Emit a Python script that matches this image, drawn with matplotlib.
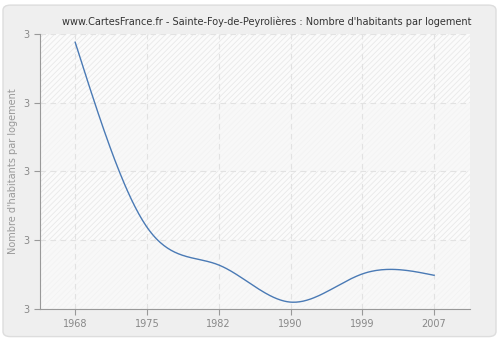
import numpy as np
import matplotlib
matplotlib.use("Agg")
import matplotlib.pyplot as plt
from matplotlib.patches import Rectangle, FancyBboxPatch

years = ["1968", "1975", "1982", "1990", "1999", "2007"]
values = [2.988, 2.719, 2.664, 2.610, 2.651, 2.649]
y_ticks = [2.6, 2.7, 2.8, 2.9, 3.0]


def natural_spline(x, y, n=300):
    # plain natural cubic spline, only used to draw the smooth line
    x = np.asarray(x, float)
    y = np.asarray(y, float)
    k = len(x)
    h = np.diff(x)
    A = np.zeros((k, k))
    b = np.zeros(k)
    A[0, 0] = A[-1, -1] = 1
    for i in range(1, k - 1):
        A[i, i - 1] = h[i - 1]
        A[i, i] = 2 * (h[i - 1] + h[i])
        A[i, i + 1] = h[i]
        b[i] = 6 * ((y[i + 1] - y[i]) / h[i] - (y[i] - y[i - 1]) / h[i - 1])
    m = np.linalg.solve(A, b)
    xs = np.linspace(x[0], x[-1], n)
    idx = np.clip(np.searchsorted(x, xs) - 1, 0, k - 2)
    t0 = x[idx]
    t1 = x[idx + 1]
    hh = t1 - t0
    ys = (m[idx] * (t1 - xs) ** 3 / (6 * hh) + m[idx + 1] * (xs - t0) ** 3 / (6 * hh)
          + (y[idx] / hh - m[idx] * hh / 6) * (t1 - xs)
          + (y[idx + 1] / hh - m[idx + 1] * hh / 6) * (xs - t0))
    return xs, ys


plt.rcParams["hatch.color"] = "#e8e8e8"
plt.rcParams["hatch.linewidth"] = 0.6

fig = plt.figure(figsize=(5, 3.4), dpi=100)
fig.patch.set_facecolor("white")
bg = FancyBboxPatch((0.006, 0.01), 0.986, 0.975,
                    boxstyle="round,pad=0,rounding_size=0.015",
                    transform=fig.transFigure, facecolor="#efefef",
                    edgecolor="#dddddd", linewidth=1, zorder=-10)
fig.patches.append(bg)

ax = fig.add_axes([0.08, 0.0912, 0.86, 0.8088])
ax.set_zorder(1)
ax.set_facecolor("#fbfbfb")

for i in range(len(y_ticks) - 1):
    if i % 2 == 1:
        ax.add_patch(Rectangle((-1, y_ticks[i]), 10, y_ticks[i + 1] - y_ticks[i],
                               facecolor="#fbfbfb", edgecolor="#e9e9e9",
                               hatch="//////", linewidth=0, zorder=0))
    else:
        ax.add_patch(Rectangle((-1, y_ticks[i]), 10, y_ticks[i + 1] - y_ticks[i],
                               facecolor="#f8f8f8", edgecolor="#f3f3f3",
                               hatch="//////", linewidth=0, zorder=0))

x = np.arange(len(years))
xs, ys = natural_spline(x, values)
ax.plot(xs, ys, color="#4a7ab5", linewidth=1, zorder=3)

ax.set_xlim(-0.49, 5.5)
ax.set_ylim(2.6, 3.0)
ax.set_xticks(x)
ax.set_xticklabels(years)
ax.set_yticks(y_ticks)
ax.set_yticklabels(["%.0f" % v for v in y_ticks])

ax.grid(True, color="#e2e2e2", linestyle=(0, (5, 4)), linewidth=0.8)
ax.set_axisbelow(True)

for s in ["top", "right"]:
    ax.spines[s].set_visible(False)
for s in ["left", "bottom"]:
    ax.spines[s].set_color("#999999")
ax.tick_params(colors="#999999", labelcolor="#888888", labelsize=7, length=4)

ax.set_ylabel("Nombre d'habitants par logement", fontsize=7, color="#999999")
fig.text(0.534, 0.935, "www.CartesFrance.fr - Sainte-Foy-de-Peyrolières : Nombre d'habitants par logement",
         ha="center", va="center", fontsize=7, color="#333333")

fig.savefig("out.png", dpi=100, facecolor=fig.get_facecolor())
